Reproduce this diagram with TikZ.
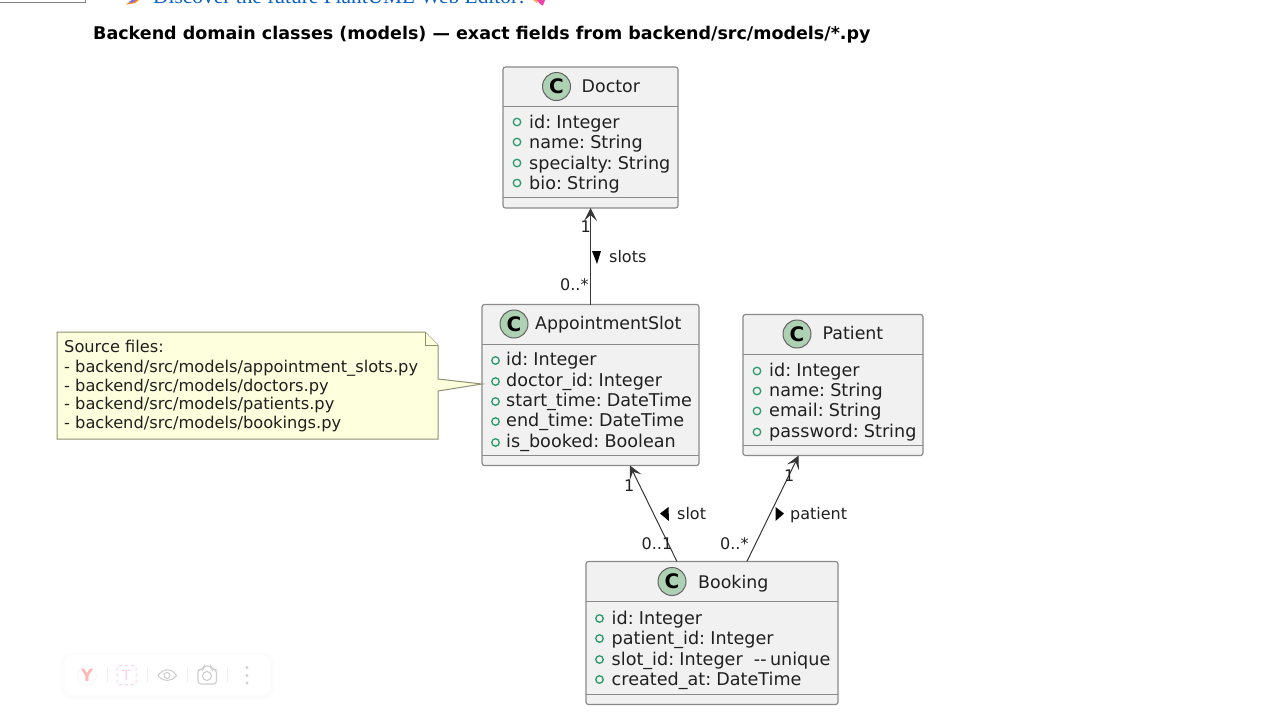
\documentclass[tikz,border=0pt]{standalone}
\usepackage{fontspec}
\setmainfont{DejaVu Sans}
\newfontfamily\pageserif{Liberation Serif}
\newfontfamily\fieldfont[WordSpace=0.6]{DejaVu Sans}
\usetikzlibrary{arrows.meta,positioning}
\definecolor{classfill}{HTML}{F1F1F1}
\definecolor{classline}{HTML}{8A8A8A}
\definecolor{spotfill}{HTML}{ADD1B2}
\definecolor{notefill}{HTML}{FEFFDD}
\definecolor{notedraw}{HTML}{8F8F70}
\definecolor{fieldring}{HTML}{2E9A6C}
\definecolor{inktext}{HTML}{202020}
\definecolor{linkblue}{HTML}{0B5FC0}
\tikzset{
 classbox/.style={draw=classline,fill=classfill,line width=1.2pt,rounded corners=2.5pt,inner sep=0pt,outer sep=0pt},
 sepline/.style={draw=classline,line width=1.2pt},
 spot/.style={circle,draw=inktext!70,fill=spotfill,line width=1pt,minimum size=28pt,inner sep=0pt,font=\fontsize{20}{20}\bfseries\selectfont},
 classname/.style={anchor=base west,inner sep=0pt,text=inktext,font=\fontsize{17.4}{17.4}\selectfont},
 fieldtext/.style={anchor=base west,inner sep=0pt,text=inktext,font=\fieldfont\fontsize{17.6}{17.6}\selectfont},
 fieldmark/.style={circle,draw=fieldring,line width=1.3pt,minimum size=7.5pt,inner sep=0pt},
 edgetext/.style={anchor=base west,inner sep=0pt,text=inktext,font=\fontsize{16}{16}\selectfont},
 assoc/.style={draw=inktext!90,line width=1pt,-{Stealth[length=13pt,width=13pt,inset=6pt]}},
 notetext/.style={anchor=base west,inner sep=0pt,text=inktext,font=\fontsize{16.24}{16.24}\selectfont},
 toolsep/.style={draw=gray!12,line width=1pt},
 toolicon/.style={draw=gray!38,line width=1.1pt}
}
\begin{document}
\begin{tikzpicture}[x=1pt,y=-1pt]
 \useasboundingbox (0,0) rectangle (1263,721);
 \fill[white] (0,0) rectangle (1263,721);
 % page strip at the top
 \draw[gray,line width=1pt] (0,2.5)--(85.5,2.5)--(85.5,-2);
 \node[anchor=base west,inner sep=0pt,text=linkblue,font=\pageserif\fontsize{21.4}{21.4}\selectfont] (editorlink) at (153,3) {Discover the future PlantUML Web Editor!};
 \fill[orange] (126,4.5)--(133,-1)--(140,-1)--(135,3)--cycle;
 \fill[blue!55] (129,2)--(134,-1)--(137,-1)--(132,3)--cycle;
 \fill[orange!70] (533,0)--(538,0)--(537,3)--cycle;
 \fill[magenta!75] (537,0)--(545,0)--(543,5.5)--(540,4)--cycle;
 \node[anchor=base west,inner sep=0pt,font=\fontsize{17.5}{17.5}\bfseries\selectfont] (title) at (93,39) {Backend domain classes (models) — exact fields from backend/src/models/*.py};
 % class boxes
 \node[classbox,minimum width=175pt,minimum height=141pt] (doctor) at (590.5,137.5) {};
 \node[classbox,minimum width=217pt,minimum height=161pt] (slot) at (590.5,385) {};
 \node[classbox,minimum width=180pt,minimum height=141pt] (patient) at (833,385) {};
 \node[classbox,minimum width=252pt,minimum height=143pt] (booking) at (712,633) {};
 \draw[sepline] (503,106.5)--(678,106.5);
 \draw[sepline] (503,197.5)--(678,197.5);
 \draw[sepline] (482,344.5)--(699,344.5);
 \draw[sepline] (482,455.5)--(699,455.5);
 \draw[sepline] (743,354.5)--(923,354.5);
 \draw[sepline] (743,445.5)--(923,445.5);
 \draw[sepline] (586,601.5)--(838,601.5);
 \draw[sepline] (586,694.5)--(838,694.5);
 % headers
 \node[spot] (doctorspot) at (556.5,86.5) {C};
 \node[classname] (doctorname) at (581.5,92) {Doctor};
 \node[spot] (slotspot) at (514,324) {C};
 \node[classname] (slotname) at (535,329.5) {AppointmentSlot};
 \node[spot] (patientspot) at (797,334) {C};
 \node[classname] (patientname) at (822.5,339.5) {Patient};
 \node[spot] (bookingspot) at (672,581.5) {C};
 \node[classname] (bookingname) at (698,588) {Booking};
 % fields
 \foreach \fy/\ft in {128/id: Integer,148/name: String,169/specialty: String,189/bio: String}{
  \node[fieldmark] at (517,122+\fy-128) {};
  \node[fieldtext] at (529,\fy) {\ft};
 }
 \foreach \fy/\ft in {365/id: Integer,386/doctor\_id: Integer,406/start\_time: DateTime,426/end\_time: DateTime,447/is\_booked: Boolean}{
  \node[fieldmark] at (495.5,360.5+\fy-365) {};
  \node[fieldtext] at (506,\fy) {\ft};
 }
 \foreach \fy/\ft in {376/id: Integer,396/name: String,416/email: String,437/password: String}{
  \node[fieldmark] at (757,371+\fy-376) {};
  \node[fieldtext] at (769,\fy) {\ft};
 }
 \foreach \fy/\ft in {624/id: Integer,644/patient\_id: Integer,665/slot\_id: Integer\ \ \kern4.5pt{-}{-} unique,685/created\_at: DateTime}{
  \node[fieldmark] at (599.5,618.5+\fy-624) {};
  \node[fieldtext] at (611.5,\fy) {\ft};
 }
 % associations
 \draw[assoc] (slot) -- (doctor);
 \draw[assoc] (booking) -- (slot);
 \draw[assoc] (booking) -- (patient);
 \node[edgetext] (doctorone) at (580.5,232) {1};
 \node[edgetext] (slotmany) at (560,290) {0..*};
 \node[edgetext] (slotone) at (624,491) {1};
 \node[edgetext] (bookingone) at (641.5,549) {0..1};
 \node[edgetext] (patientone) at (784,481) {1};
 \node[edgetext] (bookingmany) at (720,549) {0..*};
 \node[edgetext] (slotslabel) at (609,262) {slots};
 \node[edgetext] (slotlabel) at (677,519.5) {slot};
 \node[edgetext] (patientlabel) at (790,519.5) {patient};
 \fill[black] (592,251)--(601,251)--(597,264)--cycle;
 \fill[black] (668.5,507)--(669,521)--(660,513.5)--cycle;
 \fill[black] (775.5,507)--(775.5,521)--(784,513.5)--cycle;
 % note
 \draw[draw=notedraw,fill=notefill,line width=1pt] (57,332)--(425,332)--(438,345)--(438,379)--(482,384)--(438,391)--(438,439)--(57,439)--cycle;
 \draw[draw=notedraw,fill=notefill,line width=1pt] (425,332)--(425,345)--(438,345);
 \node[notetext] (notetitle) at (64,352.5) {Source files:};
 \node[notetext] (noteslots) at (64,372.5) {- backend/src/models/appointment\_slots.py};
 \node[notetext] (notedoctors) at (64,391) {- backend/src/models/doctors.py};
 \node[notetext] (notepatients) at (64,409.5) {- backend/src/models/patients.py};
 \node[notetext] (notebookings) at (64,428.5) {- backend/src/models/bookings.py};
 % browser toolbar, faint
 \fill[gray!2,rounded corners=10pt] (61,653) rectangle (274,699);
 \fill[white,rounded corners=9pt] (65,655) rectangle (270,695);
 \draw[gray!8,line width=.6pt] (87,675.5) circle (9.5pt);
 \node[inner sep=0pt,text=red!28,font=\fontsize{17}{17}\bfseries\selectfont] (yicon) at (87,675.5) {Y};
 \draw[draw=magenta!18,line width=1pt,dashed,rounded corners=2pt] (117,665.5) rectangle (136,684.5);
 \node[inner sep=0pt,text=magenta!18,font=\fontsize{14}{14}\selectfont] (ticon) at (126.5,675) {T};
 \draw[toolsep] (107,667)--(107,683);
 \draw[toolsep] (147,667)--(147,683);
 \draw[toolsep] (187,667)--(187,683);
 \draw[toolsep] (227,667)--(227,683);
 \draw[toolicon] (158,675.5) .. controls (163,668) and (172,668) .. (176.5,675.5) .. controls (172,682) and (163,682) .. (158,675.5);
 \draw[toolicon] (167,675.5) circle (3pt);
 \draw[toolicon,rounded corners=3pt] (198,669.5)--(203,669.5)--(204,666)--(211,666)--(212,669.5)--(216.5,669.5)--(216.5,684)--(198,684)--cycle;
 \draw[toolicon] (207,676) circle (4.5pt);
 \foreach \dy in {667.5,675.5,683}{
  \fill[gray!38] (247,\dy) circle (1.6pt);
 }
\end{tikzpicture}
\end{document}
